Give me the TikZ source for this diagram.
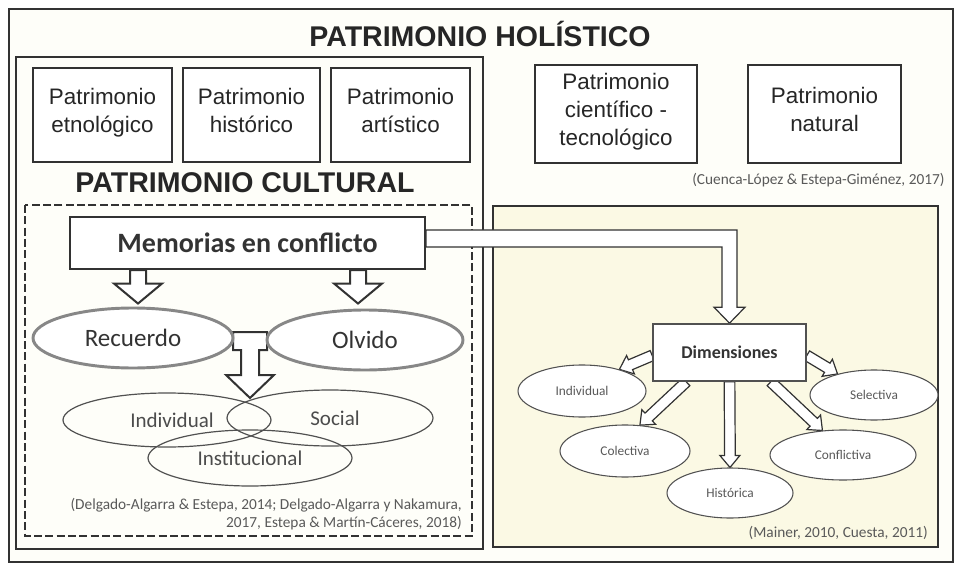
\documentclass[tikz,border=0pt]{standalone}
\usepackage{fontspec}
\setmainfont{Liberation Sans}
\newfontfamily\calibrifont{Carlito}
\usetikzlibrary{calc,shapes.geometric}

\definecolor{inkgray}{RGB}{50,50,50}
\definecolor{ovalgray}{RGB}{135,135,135}
\definecolor{paleyellow}{RGB}{251,249,228}
\definecolor{paleivory}{RGB}{254,254,249}

\pgfdeclarelayer{front}
\pgfsetlayers{main,front}

\tikzset{every picture/.style={line width=0.75pt}}
\tikzset{
  bigtitle/.style={font=\bfseries\fontsize{21.4}{26}\selectfont, text=black!85, inner sep=0pt},
  patbox/.style={draw=inkgray, line width=1.6pt, fill=white, align=center, inner sep=0pt, text=black!85, font=\fontsize{16.8}{21}\selectfont},
  memobox/.style={draw=inkgray, line width=1.6pt, fill=white, inner sep=0pt, text=black!80, font=\calibrifont\bfseries\fontsize{21}{25}\selectfont},
  memooval/.style={ellipse, draw=ovalgray, line width=2.2pt, fill=white, inner sep=0pt, text=black!80, font=\calibrifont\fontsize{18.75}{22}\selectfont},
  kindoval/.style={ellipse, draw=inkgray!85, line width=0.9pt, inner sep=0pt, text=black!70, font=\calibrifont\fontsize{15.75}{19}\selectfont},
  dimbox/.style={draw=inkgray!85, line width=1.2pt, fill=white, inner sep=0pt, text=black!80, font=\calibrifont\bfseries\fontsize{13.5}{16}\selectfont},
  dimoval/.style={ellipse, draw=inkgray!85, line width=0.8pt, fill=white, inner sep=0pt, text=black!65, font=\calibrifont\fontsize{10}{12}\selectfont},
  citation/.style={inner sep=0pt, text=black!65, font=\calibrifont\fontsize{11.5}{13.5}\selectfont},
  hollow/.style={draw=inkgray, fill=white, line width=0.9pt},
  thickhollow/.style={draw=inkgray, fill=white, line width=1.5pt},
}

% hollow block arrow: [style]{from}{to}{half shaft}{half head}{head length}
\newcommand{\hollowarrow}[6][hollow]{%
  \coordinate (neck) at ($(#3)!#6!(#2)$);
  \draw[#1] ($(#2)!#4!90:(#3)$) -- ($(neck)!#4!90:(#3)$) -- ($(neck)!#5!90:(#3)$)
    -- (#3) -- ($(neck)!#5!-90:(#3)$) -- ($(neck)!#4!-90:(#3)$)
    -- ($(#2)!#4!-90:(#3)$) -- cycle;
}

\begin{document}
\begin{tikzpicture}[x=0.75pt,y=0.75pt,yscale=-1,xscale=1]
	\useasboundingbox (0,0) rectangle (962,566);

	%Shape: Rectangle [outer frame]
	\draw [draw=inkgray, line width=1.8pt, fill=paleivory] (9,9) rectangle (953,562);
	% Text Node
	\node [bigtitle] (holis) at (480,34) {PATRIMONIO HOLÍSTICO};

	%Shape: Rectangle [cultural]
	\draw [draw=inkgray, line width=1.2pt] (16,57) rectangle (483,549);
	%Shape: Rectangle [dimensions panel]
	\draw [draw=inkgray, line width=1.2pt, fill=paleyellow] (493,206) rectangle (938,547);

	% Patrimonio boxes
	\node [patbox, minimum width=104.25pt, minimum height=70.5pt] (etno) at (102.5,115) {Patrimonio\\etnológico\strut};
	\node [patbox, minimum width=102.75pt, minimum height=70.5pt] (hist) at (251.5,115) {Patrimonio\\histórico\strut};
	\node [patbox, minimum width=104.25pt, minimum height=70.5pt] (arti) at (400.5,115) {Patrimonio\\artístico\strut};
	\node [patbox, minimum width=121.5pt, minimum height=73.5pt] (cien) at (616,114) {Patrimonio\\científico -\\tecnológico\strut};
	\node [patbox, minimum width=114.75pt, minimum height=73.5pt] (natu) at (824.5,114) {Patrimonio\\natural\strut};

	% Text Node
	\node [bigtitle] (cult) at (245,183) {PATRIMONIO CULTURAL};
	% Text Node
	\node [citation, anchor=east] (cuenca) at (945,180) {(Cuenca-López \& Estepa-Giménez, 2017)};

	%Shape: Rectangle [dashed memories]
	\draw [draw=inkgray, line width=1.9pt, dash pattern=on 6pt off 2.5pt] (25,205) rectangle (472,536);

	\begin{pgfonlayer}{front}
	\node [memobox, minimum width=266.25pt, minimum height=39pt] (memo) at (247.5,243) {Memorias en conflicto};
	\node [memooval, minimum width=150pt, minimum height=45pt] (rec) at (133,338) {Recuerdo};
	\node [memooval, minimum width=147pt, minimum height=45pt] (olv) at (365,340) {Olvido};

	\node [dimbox, minimum width=114.75pt, minimum height=42.75pt] (dim) at (729.5,352.5) {Dimensiones};
	\node [dimoval, minimum width=96pt, minimum height=39pt] (rind) at (582,391) {Individual};
	\node [dimoval, minimum width=96pt, minimum height=37.5pt] (sele) at (874,395) {Selectiva};
	\node [dimoval, minimum width=97.5pt, minimum height=39pt] (cole) at (625,451) {Colectiva};
	\node [dimoval, minimum width=109.5pt, minimum height=37.5pt] (conf) at (843,455) {Conflictiva};
	\node [dimoval, minimum width=94.5pt, minimum height=37.5pt] (hsta) at (730,493) {Histórica};
	\end{pgfonlayer}

	% arrow between recuerdo and olvido
	\coordinate (gap) at (250,339);
	\coordinate (meet) at (250,398);
	\draw [thickhollow] ($(gap)+(-17,-7)$) -- ($(gap)+(17,-7)$) -- ($(gap)+(17,11)$) -- ($(gap)+(9,11)$) -- ($(gap)+(9,36)$) -- ($(gap)+(24,36)$) -- (meet) -- ($(gap)+(-24,36)$) -- ($(gap)+(-9,36)$) -- ($(gap)+(-9,11)$) -- ($(gap)+(-17,11)$) -- cycle;

	% kinds of memory
	\node [kindoval, minimum width=156pt, minimum height=40.5pt] (ind) at (167,420) {\hspace{7.5pt}Individual};
	\node [kindoval, minimum width=154.5pt, minimum height=42pt] (soc) at (330,418) {\hspace{7.5pt}Social};
	\node [kindoval, minimum width=153pt, minimum height=42pt] (inst) at (250,458) {Institucional};

	% Text Node
	\node [citation, anchor=east, align=right] (delg) at (462,514) {(Delgado-Algarra \& Estepa, 2014; Delgado-Algarra y Nakamura,\\2017, Estepa \& Martín-Cáceres, 2018)};
	% Text Node
	\node [citation, anchor=east] (mainer) at (928,533) {(Mainer, 2010, Cuesta, 2011)};

	% arrows out of memorias
	\coordinate (recdrop) at ($(memo.south -| rec.north)+(5,0)$);
	\coordinate (rectop) at ($(rec.north)+(5,-3)$);
	\coordinate (olvdrop) at ($(memo.south -| olv.north)+(-7,0)$);
	\coordinate (olvtop) at ($(olv.north)+(-7,-5)$);
	\hollowarrow[thickhollow]{recdrop}{rectop}{6pt}{18pt}{15pt}
	\hollowarrow[thickhollow]{olvdrop}{olvtop}{6pt}{18pt}{15pt}

	% elbow arrow to dimensiones
	\draw [hollow] ($(memo.east)+(0,-13)$) -| ($(dim.north)+(7.5,-16)$) -- ++(8,0) -- (dim.north) -- ++(-15.5,-16) -- ++(8,0) |- ($(memo.east)+(0,4)$) -- cycle;

	% arrows out of dimensiones
	\coordinate (dimind) at ($(dim.west)+(0,3)$);
	\coordinate (dimsel) at ($(dim.east)+(0,3)$);
	\coordinate (dimcole) at ($(dim.south west)+(34,0)$);
	\coordinate (dimconf) at ($(dim.south east)+(-36,0)$);
	\hollowarrow{dimind}{rind.30}{4pt}{7.5pt}{9pt}
	\hollowarrow{dimcole}{cole.60}{4pt}{7.5pt}{9pt}
	\hollowarrow{dim.south}{hsta.north}{4pt}{7.5pt}{9pt}
	\hollowarrow{dimconf}{conf.130}{4pt}{7.5pt}{9pt}
	\hollowarrow{dimsel}{sele.150}{4pt}{7.5pt}{9pt}

\end{tikzpicture}
\end{document}
